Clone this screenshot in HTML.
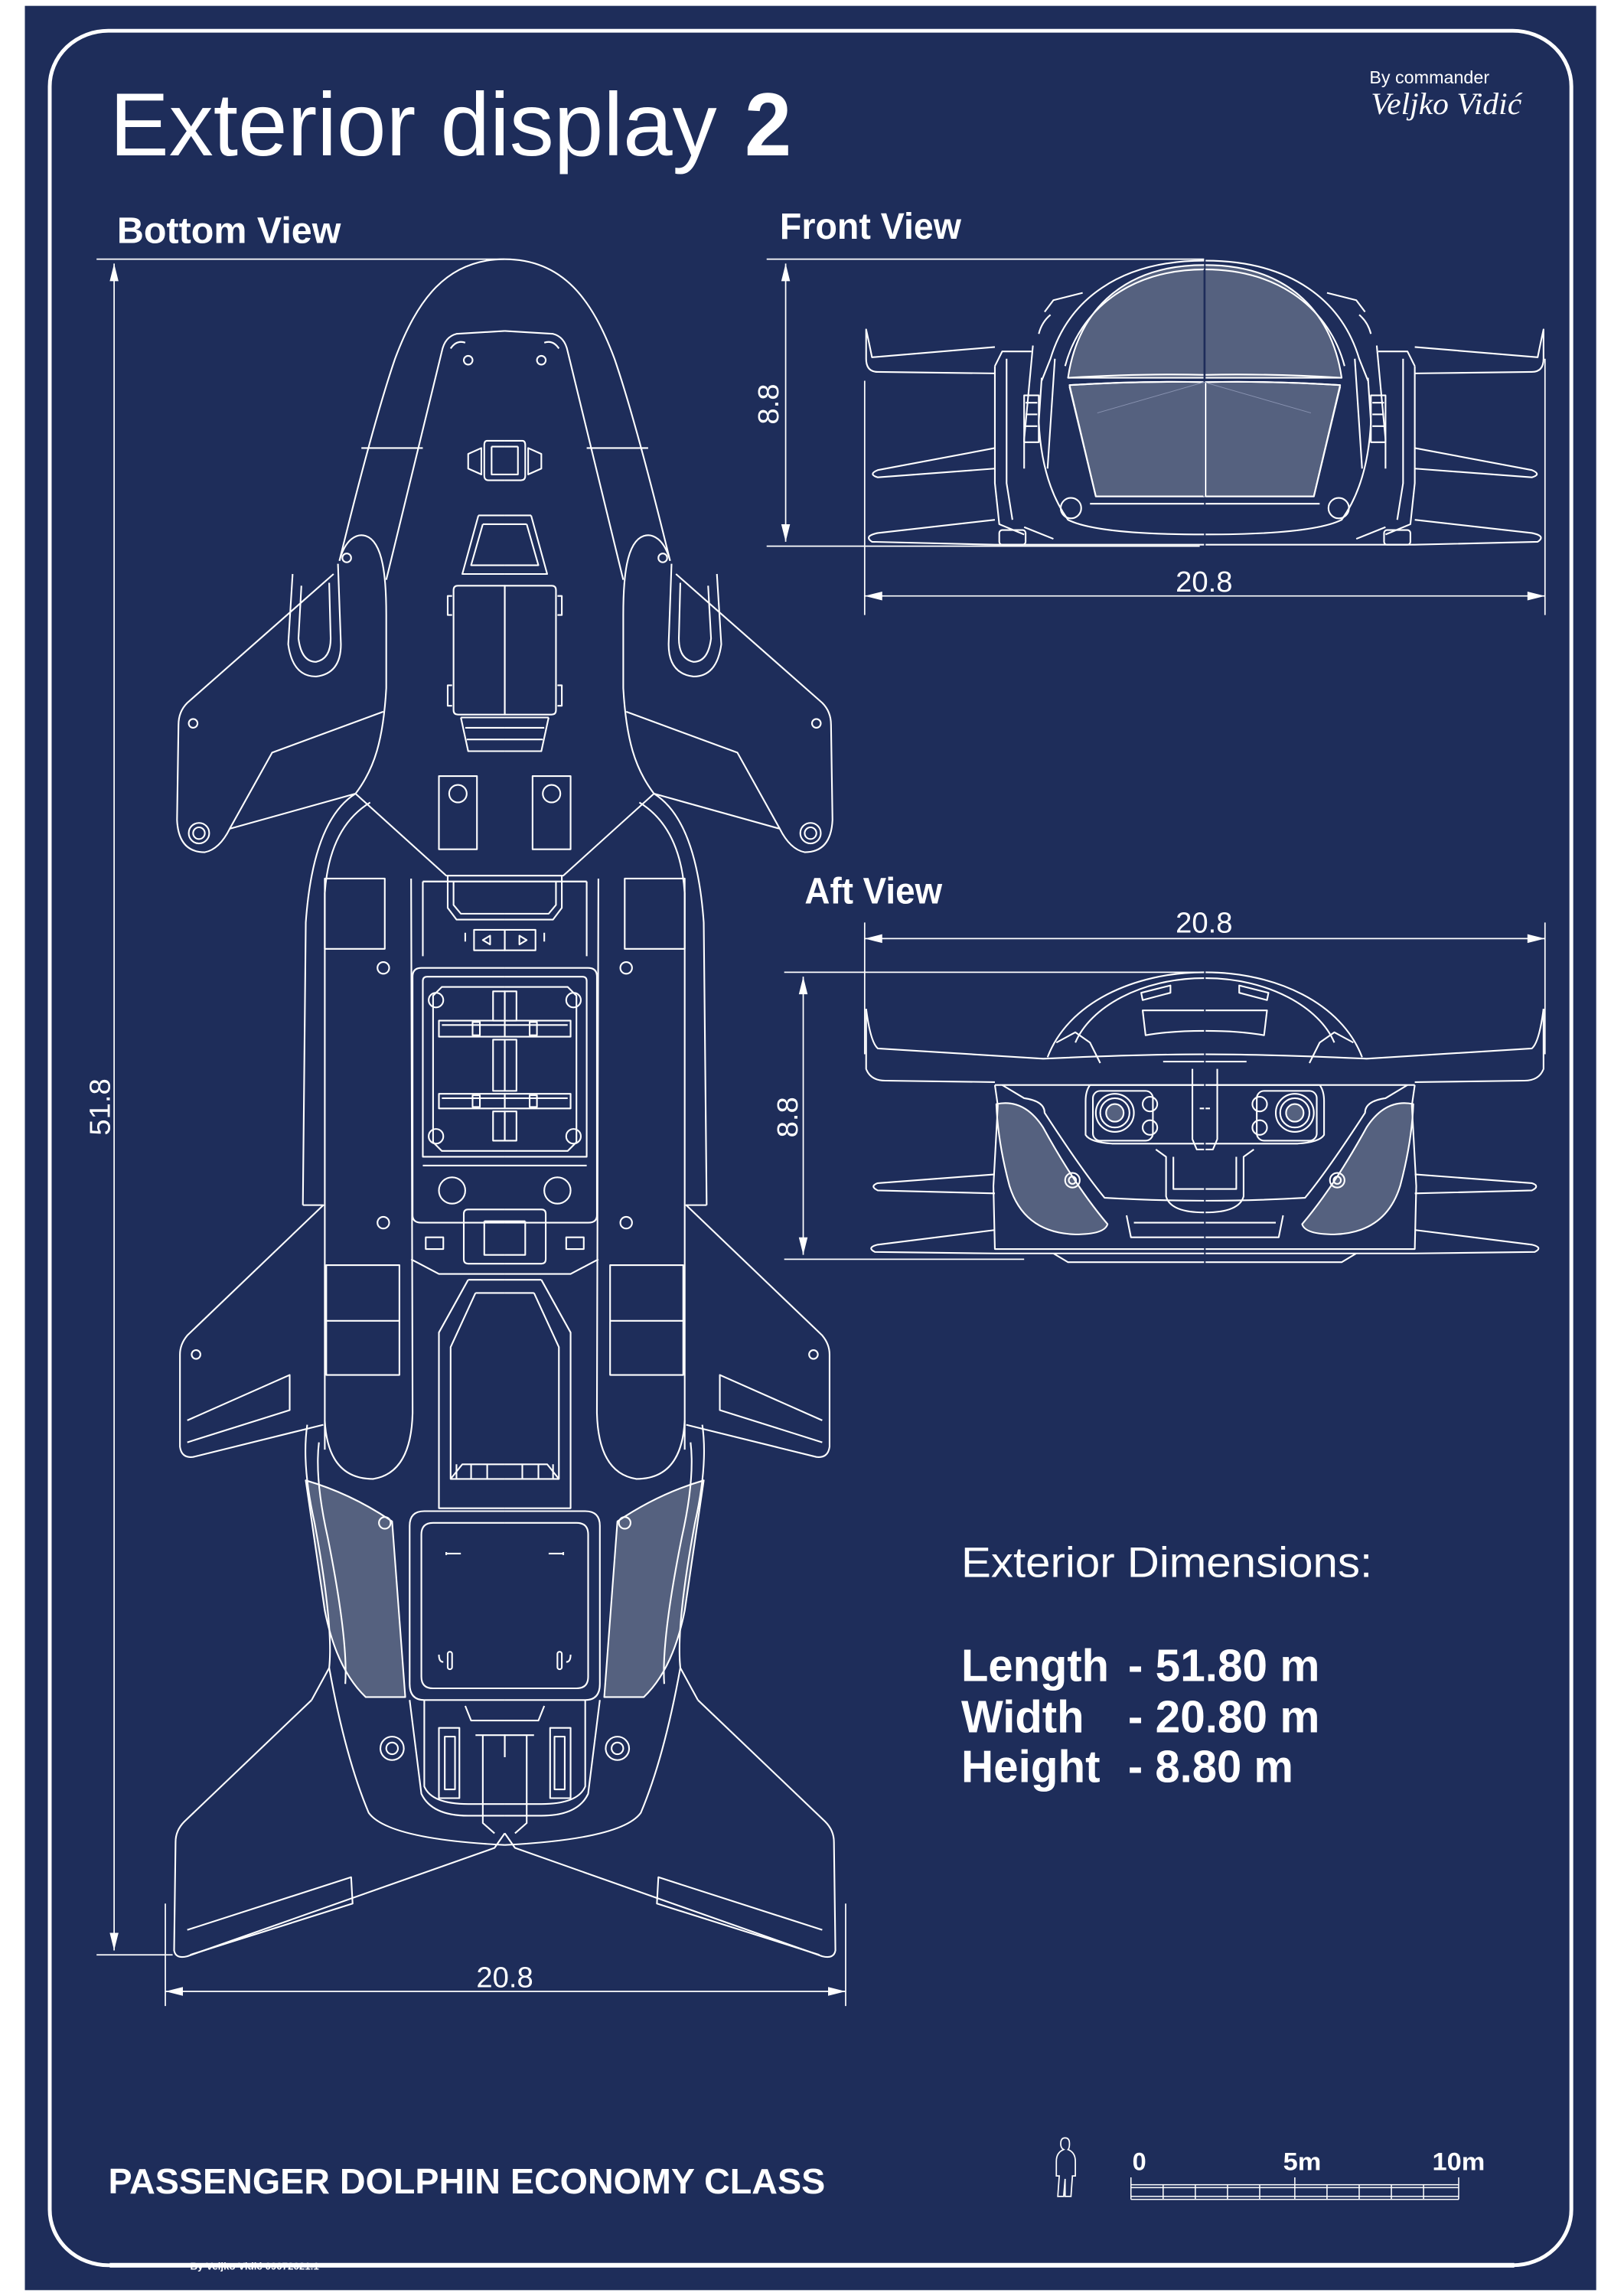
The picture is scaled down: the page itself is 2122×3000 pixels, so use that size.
<!DOCTYPE html>
<html><head><meta charset="utf-8"><style>
html,body{margin:0;padding:0;background:#fff}
svg{display:block}
text{font-family:"Liberation Sans",Arial,sans-serif;fill:#fff}
</style></head><body>
<svg width="2122" height="3000" viewBox="0 0 1110 1568" preserveAspectRatio="none" xmlns="http://www.w3.org/2000/svg">
<rect x="0" y="0" width="1110" height="1568" fill="#fff"/>
<rect x="17" y="4" width="1074" height="1560" fill="#1e2d5a"/>
<rect x="34" y="21" width="1040" height="1526" rx="40" ry="38" fill="none" stroke="#fff" stroke-width="2.6"/>
<path d="M75,1547 H1035" stroke="#fff" stroke-width="3.2"/>

<text x="75" y="106" font-size="61" textLength="415" lengthAdjust="spacingAndGlyphs">Exterior display</text>
<text x="509" y="106" font-size="61" font-weight="bold" textLength="32" lengthAdjust="spacingAndGlyphs">2</text>
<text x="936" y="57" font-size="12" textLength="82" lengthAdjust="spacingAndGlyphs">By commander</text>
<text x="937" y="78" font-size="21" font-style="italic" style="font-family:'Liberation Serif',serif" textLength="103" lengthAdjust="spacingAndGlyphs">Veljko Vidić</text>
<text x="80" y="166" font-size="25" font-weight="bold" textLength="153" lengthAdjust="spacingAndGlyphs">Bottom  View</text>
<text x="533" y="163" font-size="25" font-weight="bold" textLength="124" lengthAdjust="spacingAndGlyphs">Front View</text>
<text x="550" y="617" font-size="25" font-weight="bold" textLength="94" lengthAdjust="spacingAndGlyphs">Aft View</text>

<text x="657" y="1077" font-size="29" textLength="281" lengthAdjust="spacingAndGlyphs">Exterior Dimensions:</text>
<g font-weight="bold" font-size="31">
<text x="657" y="1148" textLength="101" lengthAdjust="spacingAndGlyphs">Length</text>
<text x="771" y="1148" textLength="131" lengthAdjust="spacingAndGlyphs">- 51.80 m</text>
<text x="657" y="1183" textLength="84" lengthAdjust="spacingAndGlyphs">Width</text>
<text x="771" y="1183" textLength="131" lengthAdjust="spacingAndGlyphs">- 20.80 m</text>
<text x="657" y="1217" textLength="95" lengthAdjust="spacingAndGlyphs">Height</text>
<text x="771" y="1217" textLength="113" lengthAdjust="spacingAndGlyphs">- 8.80 m</text>
</g>
<text x="74" y="1498" font-size="24" font-weight="bold" textLength="490" lengthAdjust="spacingAndGlyphs">PASSENGER DOLPHIN ECONOMY CLASS</text>
<text x="130" y="1550" font-size="6.5" font-weight="bold" textLength="88" lengthAdjust="spacingAndGlyphs">By Veljko Vidić 09072021.1</text>

<g font-size="17" font-weight="bold">
<text x="774" y="1482">0</text>
<text x="877" y="1482" textLength="26" lengthAdjust="spacingAndGlyphs">5m</text>
<text x="979" y="1482" textLength="36" lengthAdjust="spacingAndGlyphs">10m</text>
</g>
<g stroke="#fff" stroke-width="0.8" fill="none">
<path d="M773,1487 V1502 M885,1487 V1502 M997,1487 V1502"/>
<path d="M773,1492 H997 M773,1494 H997 M773,1500 H997 M773,1502 H997"/>
<path d="M795,1492V1502 M817,1492V1502 M839,1492V1502 M861,1492V1502 M907,1492V1502 M929,1492V1502 M951,1492V1502 M973,1492V1502"/>
</g>
<path d="M728,1460 q3,0 3,4 q0,3 -1,4 q5,2 5,8 l0,10 l-2,0 l-1,14 l-4,0 l0,-12 l-1,12 l-4,0 l1,-14 l-2,0 l0,-10 q0,-6 5,-8 q-2,-1 -2,-4 q0,-4 3,-4z" fill="none" stroke="#fff" stroke-width="0.9"/>

<g stroke="#fff" stroke-width="0.9" fill="none">
<path d="M66,177 H345 M66,1335 H118 M78,180 V1332"/>
<path d="M113,1360 H578 M113,1300 V1370 M578,1300 V1370"/>
<path d="M524,177 H823 M524,373 H820 M537,180 V370"/>
<path d="M591,407 H1056 M591,260 V420 M1056,245 V420"/>
<path d="M591,641 H1056 M591,630 V720 M1056,630 V720"/>
<path d="M536,664 H823 M536,860 H700 M549,667 V857"/>
</g>
<g fill="#fff">
<path d="M78,180 l-3,12 l6,0z M78,1332 l-3,-12 l6,0z"/>
<path d="M113,1360 l12,-3 l0,6z M578,1360 l-12,-3 l0,6z"/>
<path d="M537,180 l-3,12 l6,0z M537,370 l-3,-12 l6,0z"/>
<path d="M591,407 l12,-3 l0,6z M1056,407 l-12,-3 l0,6z"/>
<path d="M591,641 l12,-3 l0,6z M1056,641 l-12,-3 l0,6z"/>
<path d="M549,667 l-3,12 l6,0z M549,857 l-3,-12 l6,0z"/>
</g>
<g font-size="20">
<text x="345" y="1357" text-anchor="middle">20.8</text>
<text x="823" y="404" text-anchor="middle">20.8</text>
<text x="823" y="637" text-anchor="middle">20.8</text>
<text transform="translate(75,756) rotate(-90)" text-anchor="middle">51.8</text>
<text transform="translate(532,276) rotate(-90)" text-anchor="middle">8.8</text>
<text transform="translate(545,763) rotate(-90)" text-anchor="middle">8.8</text>
</g>

<g id="bhalf" stroke="#fff" stroke-width="1.1" fill="none" stroke-linejoin="round">
<path d="M209,1011 Q240,1020 268,1039 L277,1159 L250,1159 Q230,1140 222,1100 Z" fill="#55617f" stroke="#fff"/>
<path d="M345,177 C305,177 285,205 270,245 C258,280 245,330 232,383"/>
<path d="M345,226 L312,228 Q304,230 302,240 L264,396"/>
<path d="M247,306 H289"/>
<path d="M308,238 q4,-6 10,-4" /><circle cx="320" cy="246" r="3"/>
<path d="M232,383 C236,368 244,364 250,366 C262,370 264,395 264,420 L264,470 C262,505 256,525 243,542"/>
<path d="M228,392 L128,480 Q122,486 122,495 L121,560 Q122,582 140,582 Q150,580 157,566 L243,542"/>
<path d="M157,566 L186,514 L262,486"/>
<path d="M200,392 L197,440 Q200,462 216,462 Q233,460 233,440 L231,385 M206,400 L204,436 Q206,452 216,452 Q226,450 226,436 L225,398"/>
<circle cx="132" cy="494" r="3"/><circle cx="136" cy="569" r="7"/><circle cx="136" cy="569" r="4"/>
<circle cx="237" cy="381" r="3"/>
<path d="M243,542 Q214,560 209,630 L207,823"/>
<path d="M253,548 Q225,565 222,610 L222,990"/>
<path d="M222,970 Q224,1010 255,1010 Q281,1006 282,965 L281,600"/>
<path d="M289,602 V653 M289,602 H401"/>
<path d="M243,542 L305,598 H345"/>
<path d="M333,301 H345 M333,301 Q331,301 331,304 V325 Q331,328 334,328 H345"/>
<path d="M336,305 H345 M336,305 V324 H345"/>
<path d="M329,306 L320,310 V320 L329,324 Z"/>
<path d="M327,352 H345 M327,352 L316,392 H345 M330,358 H345 M330,358 L322,386 H345"/>
<path d="M313,400 H345 V488 H313 Q310,488 310,485 V403 Q310,400 313,400 Z"/>
<path d="M309,407 H306 V420 H309 M309,468 H306 V482 H309"/>
<path d="M315,490 H345 M315,490 L320,513 H345 M318,497 H345 M319,505 H345"/>
<rect x="300" y="530" width="26" height="50"/><circle cx="313" cy="542" r="6"/>
<path d="M306,598 L306,620 L312,628 H345 M310,602 V618 L315,624 H345 M306,598 H345"/>
<path d="M324,635 H345 V649 H324 Z M330,642 l5,-3 l0,6z M318,637 v6"/>
<circle cx="262" cy="661" r="4"/>
<rect x="222" y="600" width="41" height="48"/>
<path d="M345,661 H288 Q282,661 282,667 V830 Q282,835 288,835 H345"/>
<path d="M345,667 H292 Q289,667 289,670 V790 H345"/>
<path d="M345,674 H302 L296,680 V780 L302,786 H345"/>
<path d="M300,697 H345 V708 H300 Z M302,700 H345 V705"/>
<path d="M300,747 H345 V757 H300 Z M302,750 H345"/>
<rect x="337" y="677" width="8" height="20"/><rect x="337" y="710" width="8" height="35"/><rect x="337" y="759" width="8" height="20"/>
<rect x="323" y="698" width="5" height="9"/><rect x="323" y="748" width="5" height="8"/>
<circle cx="298" cy="683" r="5"/><circle cx="298" cy="776" r="5"/>
<path d="M289,796 H345"/>
<circle cx="309" cy="813" r="9"/>
<path d="M345,826 H320 Q317,826 317,829 V860 Q317,863 320,863 H345 M331,834 H345 M331,834 V857 H345"/>
<circle cx="262" cy="835" r="4"/><rect x="291" y="845" width="12" height="8"/>
<path d="M281,860 L300,870 H345 M320,874 H345 M320,874 L300,910 V1030 H345 M325,883 H345 M325,883 L308,920 V1010 H345"/>
<path d="M308,1010 L316,1000 H345 M312,1000 V1010 M322,1000 V1010 M333,1000 V1010"/>
<rect x="223" y="864" width="50" height="75"/><path d="M223,902 H273"/>
<path d="M207,823 L221,823 L128,912 Q123,918 123,925 V988 Q124,996 132,995 L221,973"/>
<path d="M128,970 L198,939 V963 L128,985"/>
<circle cx="134" cy="925" r="3"/>
<path d="M210,973 Q206,1000 215,1040 Q228,1110 225,1139 L213,1161"/>
<path d="M218,985 Q215,1010 224,1050 Q238,1120 236,1150"/>
<path d="M345,1032 H290 Q280,1032 280,1042 V1150 Q280,1161 290,1161 H345"/>
<path d="M345,1040 H296 Q288,1040 288,1048 V1145 Q288,1153 296,1153 H345"/>
<path d="M305,1061 H315 M305,1060 v2 M303,1135 Q300,1135 300,1130"/>
<rect x="306" y="1128" width="3" height="12" rx="1.5"/>
<circle cx="263" cy="1040" r="4"/>
<path d="M280,1161 L288,1225 Q295,1240 320,1240 L345,1240"/>
<path d="M290,1161 V1220 Q295,1232 320,1232 H345"/>
<rect x="300" y="1180" width="14" height="48"/><rect x="304" y="1186" width="7" height="36"/>
<path d="M318,1165 L322,1175 H345 M325,1185 H345 V1200 M330,1185 V1245 L338,1252"/>
<circle cx="268" cy="1194" r="8"/><circle cx="268" cy="1194" r="4"/>
<path d="M213,1161 L126,1244 Q120,1250 120,1258 L119,1332 Q120,1338 128,1336 L338,1262 L345,1252"/>
<path d="M225,1139 Q236,1200 252,1238 Q265,1256 345,1260"/>
<path d="M128,1318 L240,1282 L241,1300 L130,1335"/>
</g>
<use href="#bhalf" transform="translate(690,0) scale(-1,1)"/>

<g id="fhalf" stroke="#fff" stroke-width="1.1" fill="none" stroke-linejoin="round">
<path d="M823,181 C770,181 737,210 730,258 L823,258" fill="#55617f"/>
<path d="M731,263 Q780,260 823,261 L823,339 L749,339 Z" fill="#55617f"/>
<path d="M823,178 C765,178 730,205 718,245 L712,260"/>
<path d="M823,184 C772,184 738,212 728,250"/>
<path d="M730,258 Q780,255 823,256 M731,263 Q780,260 823,261"/>
<path d="M731,264 L749,339 H823 M745,344 H823"/>
<path d="M712,258 L710,288 Q712,330 730,355 Q750,365 823,365"/>
<path d="M721,245 L716,320 M706,236 L700,300 L700,320"/>
<path d="M714,213 L720,205 L740,200 M710,228 Q712,220 718,215"/>
<path d="M700,270 v32 h10 v-32z M701,275 h8 M701,283 h8 M701,291 h8"/>
<path d="M680,250 L685,240 H705 M680,250 V330 L683,358 L700,365"/>
<path d="M688,245 V330 L692,355"/>
<path d="M680,255 L600,254 Q592,254 592,245 V225 Q594,234 596,244 L680,237"/>
<path d="M680,320 L600,326 Q593,324 600,321 L680,306"/>
<path d="M680,355 L600,364 Q590,366 596,370 L680,372 H823 M700,360 L720,368"/>
<rect x="683" y="362" width="18" height="10" rx="2"/>
<circle cx="732" cy="347" r="7"/>
</g>
<use href="#fhalf" transform="translate(1647,0) scale(-1,1)"/>
<path d="M823,184 V339" stroke="#1e2d5a" stroke-width="0.8"/>
<path d="M823,261 L750,282 M823,261 L896,282" stroke="#8892b0" stroke-width="0.5"/>

<g id="ahalf" stroke="#fff" stroke-width="1.1" fill="none" stroke-linejoin="round">
<path d="M681,754 Q700,750 713,770 Q735,810 757,836 Q755,843 735,843 Q700,842 690,810 Q682,780 681,754 Z" fill="#55617f"/>
<path d="M823,664 C775,664 730,685 716,722"/>
<path d="M823,668 C780,668 745,688 735,712"/>
<path d="M780,678 L800,673 V678 L781,683 Z"/>
<path d="M823,690 H781 L783,707 Q800,704 823,704"/>
<path d="M722,712 L735,705 L745,712 L752,726"/>
<path d="M592,689 Q595,712 600,716 L713,723 Q780,720 823,720"/>
<path d="M592,689 V730 Q595,738 605,738 L680,739"/>
<path d="M795,725 H823 M680,741 H823"/>
<path d="M680,741 L682,755 L679,810 L680,853 H823"/>
<path d="M685,741 L700,750 Q714,752 714,760 Q740,800 755,818 Q790,820 823,820"/>
<path d="M745,741 H823 M745,741 Q742,745 742,752 V775 Q745,780 760,781 H823"/>
<rect x="747" y="745" width="41" height="34" rx="5"/>
<circle cx="762" cy="760" r="13"/><circle cx="762" cy="760" r="10"/><circle cx="762" cy="760" r="6" fill="#55617f"/>
<circle cx="786" cy="754" r="5"/><circle cx="786" cy="770" r="5"/>
<path d="M790,785 L797,790 V817 Q800,828 823,828 M802,790 V812 H823"/>
<path d="M815,730 V757 M820,757 H823 M815,757 V778 L818,785 H823"/>
<path d="M770,830 L773,845 H823 M775,835 H823"/>
<circle cx="733" cy="806" r="5"/><circle cx="733" cy="806" r="2.5"/>
<path d="M680,802 L600,808 Q594,810 600,813 L680,815"/>
<path d="M680,840 L600,850 Q592,852 598,855 L680,856 H823 M720,856 L730,862 H823"/>
</g>
<use href="#ahalf" transform="translate(1647,0) scale(-1,1)"/>
</svg>
</body></html>
